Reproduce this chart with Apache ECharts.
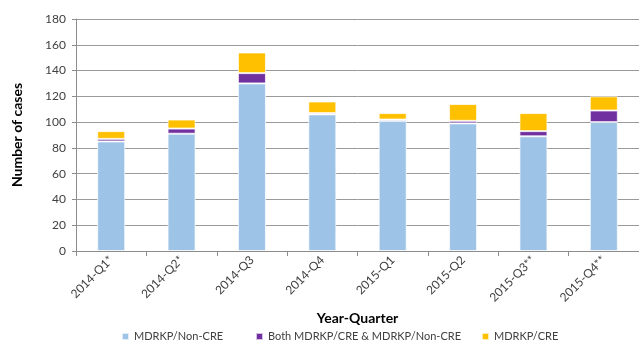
<!DOCTYPE html>
<html>
<head>
<meta charset="utf-8">
<script src="https://cdn.jsdelivr.net/npm/echarts@6/dist/echarts.min.js"></script>
<style>
  html, body { margin: 0; padding: 0; background: #fff; }
  #chart { width: 639px; height: 340px; }
</style>
</head>
<body>
<div id="chart"></div>
<script>
// Quarterly case counts, stacked by classification
const quarters = ['2014-Q1*', '2014-Q2*', '2014-Q3', '2014-Q4', '2015-Q1', '2015-Q2', '2015-Q3**', '2015-Q4**'];
const nonCre   = [85, 91, 130, 106, 101, 99, 89, 100];
const both     = [2, 4, 8, 1, 1, 2, 4, 9];
const cre      = [6, 7, 16, 9, 5, 13, 14, 11];
const seriesNames = ['MDRKP/Non-CRE', 'Both MDRKP/CRE & MDRKP/Non-CRE', 'MDRKP/CRE'];
const seriesColors = ['#9DC3E6', '#7030A0', '#FFC000'];

const FONT = 'Lato, "Open Sans", sans-serif';
const chart = echarts.init(document.getElementById('chart'), null, { renderer: 'canvas' });

const legendLefts = [116, 250, 476];
const legends = seriesNames.map((n, i) => ({
  data: [n],
  left: legendLefts[i],
  top: 326,
  itemWidth: 7,
  itemHeight: 7,
  icon: 'rect',
  textStyle: { fontFamily: FONT, fontSize: 11, color: '#404040' }
}));

const values = [nonCre, both, cre];
chart.setOption({
  animation: false,
  backgroundColor: '#ffffff',
  legend: legends,
  grid: { left: 76, top: 19, width: 571, height: 232, containLabel: false },
  xAxis: {
    type: 'category',
    data: quarters,
    name: 'Year-Quarter',
    nameLocation: 'middle',
    nameGap: 58,
    nameTextStyle: { fontFamily: FONT, fontSize: 14, fontWeight: 'bold', color: '#000' },
    axisLine: { lineStyle: { color: '#8c8c8c', width: 1 } },
    axisTick: { show: true, alignWithLabel: false, length: 5, lineStyle: { color: '#8c8c8c' } },
    axisLabel: { rotate: 45, fontFamily: FONT, fontSize: 12, color: '#404040', margin: 7, interval: 0 }
  },
  yAxis: {
    type: 'value',
    min: 0,
    max: 180,
    interval: 20,
    name: 'Number of cases',
    nameLocation: 'middle',
    nameGap: 52,
    nameTextStyle: { fontFamily: FONT, fontSize: 14, fontWeight: 'bold', color: '#000' },
    axisLine: { show: true, lineStyle: { color: '#8c8c8c', width: 1 } },
    axisTick: { show: true, length: 4, lineStyle: { color: '#8c8c8c' } },
    axisLabel: { fontFamily: FONT, fontSize: 12, color: '#404040', margin: 10 },
    splitLine: { lineStyle: { color: '#9a9a9a', width: 1 } }
  },
  series: seriesNames.map((n, i) => ({
    name: n,
    type: 'bar',
    stack: 'cases',
    barWidth: 28,
    data: values[i],
    itemStyle: { color: seriesColors[i], borderColor: 'rgba(255,255,255,0.7)', borderWidth: 1 }
  }))
});
</script>
</body>
</html>
